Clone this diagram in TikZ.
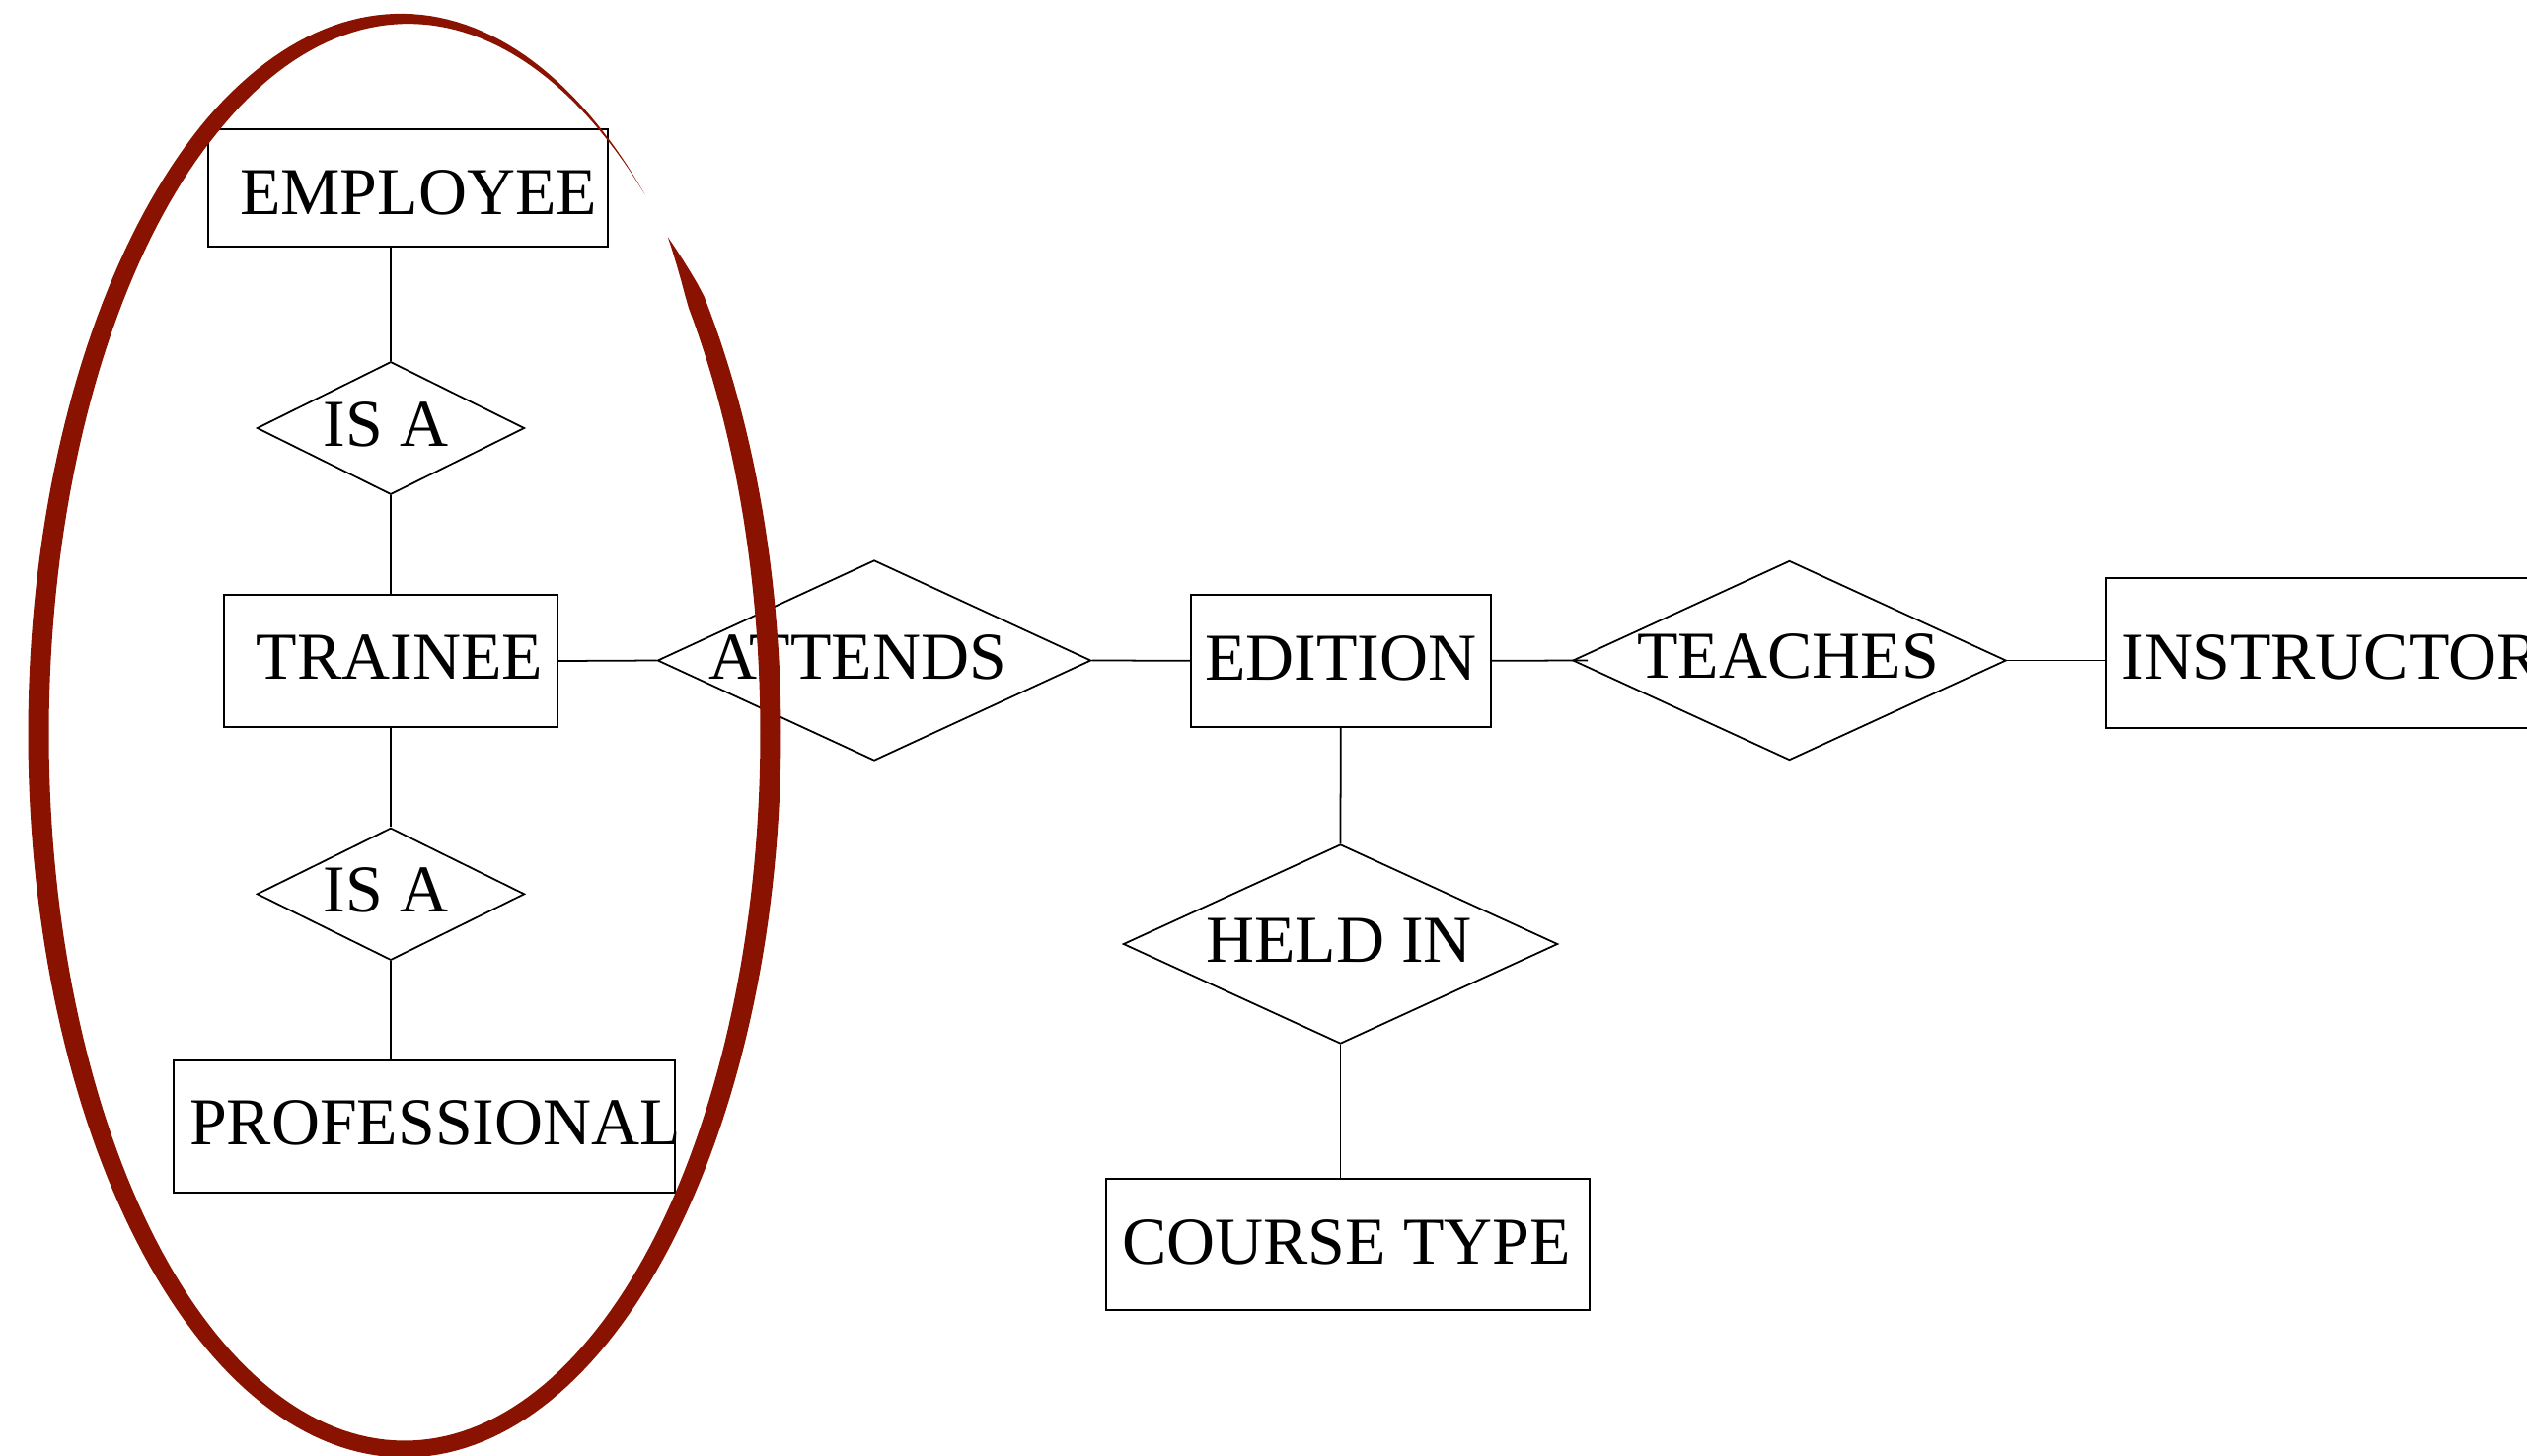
\documentclass[tikz,border=0pt]{standalone}
\usepackage{fontspec}
\setmainfont{Liberation Serif}
\usetikzlibrary{shapes.geometric}
\definecolor{markred}{RGB}{137,19,0}
\begin{document}
\begin{tikzpicture}[x=0.01cm, y=-0.01cm,
  entity/.style={draw, line width=0.6pt, rectangle, inner sep=0pt},
  relation/.style={draw, line width=0.5pt, diamond, inner sep=0pt},
  lbl/.style={inner sep=0pt, anchor=base, font=\fontsize{19.3}{23}\selectfont},
  link/.style={line width=0.5pt},
  declare function={wd(\t)=min(19+2*cos(2*\t), 3*(\t+44), 0.25*(311-\t));}
]
% page frame (1 unit = one pixel, y pointing down)
\path[use as bounding box, fill=white] (0,0) rectangle (2561,1475);
\clip (0,0) rectangle (2561,1475);

% entities and relationships
\node[entity, minimum width=4.05cm, minimum height=1.19cm] (emp) at (413.5,190.5) {};
\node[relation, minimum width=2.71cm, minimum height=1.345cm] (isa1) at (396,434) {};
\node[entity, minimum width=3.38cm, minimum height=1.34cm] (trainee) at (396,670) {};
\node[relation, minimum width=2.71cm, minimum height=1.34cm] (isa2) at (396,906.3) {};
\node[entity, minimum width=5.07cm, minimum height=1.34cm] (prof) at (430,1142) {};
\node[relation, minimum width=4.39cm, minimum height=2.03cm] (attends) at (886,669.5) {};
\node[entity, minimum width=3.035cm, minimum height=1.335cm] (edition) at (1358.75,669.75) {};
\node[relation, minimum width=4.39cm, minimum height=2.02cm] (teaches) at (1813.5,669.5) {};
\node[entity, minimum width=4.66cm, minimum height=1.52cm] (instr) at (2367,662) {};
\node[relation, minimum width=4.40cm, minimum height=2.02cm] (heldin) at (1358.5,957) {};
\node[entity, minimum width=4.90cm, minimum height=1.33cm] (course) at (1366,1261.5) {};

% labels
\node[lbl] (emp-t) at (424,217) {EMPLOYEE};
\node[lbl] (isa1-t) at (391,452) {IS A};
\node[lbl] (trainee-t) at (405,688) {TRAINEE};
\node[lbl] (isa2-t) at (391,924) {IS A};
\node[lbl] (prof-t) at (441,1160) {PROFESSIONAL};
\node[lbl] (attends-t) at (869,688) {ATTENDS};
\node[lbl] (edition-t) at (1358.7,689) {EDITION};
\node[lbl] (teaches-t) at (1812,687) {TEACHES};
\node[lbl, anchor=base west] (instr-t) at (2150,688) {INSTRUCTOR};
\node[lbl] (heldin-t) at (1357,975) {HELD IN};
\node[lbl] (course-t) at (1364.5,1281) {COURSE TYPE};

% connectors
\draw[link] (emp.south -| isa1.north) -- (isa1.north);
\draw[link] (isa1.south) -- (trainee.north);
\draw[link] (trainee.south) -- (isa2.north);
\draw[link] (isa2.south) -- (isa2.south |- prof.north);
\draw[link] (trainee.east) -- (attends.west);
\draw[link] (attends.east) -- (edition.west);
\draw[link] (edition.east) -- ([xshift=0.16cm]teaches.west);
\draw[link] (teaches.east) -- (teaches.east -| instr.west);
\draw[link] (edition.south) -- (heldin.north);
\draw[link] (heldin.south) -- (heldin.south |- course.north);

% hand-drawn ring around the specialisation hierarchy
\fill[markred]
  plot[domain=-44:311, samples=260, variable=\a]
    ({410+(371+wd(\a)/2)*cos(\a)}, {744+(725+wd(\a)/2)*sin(\a)})
  -- plot[domain=311:-44, samples=260, variable=\a]
    ({410+(371-wd(\a)/2)*cos(\a)}, {744+(725-wd(\a)/2)*sin(\a)})
  -- cycle;
\end{tikzpicture}
\end{document}
